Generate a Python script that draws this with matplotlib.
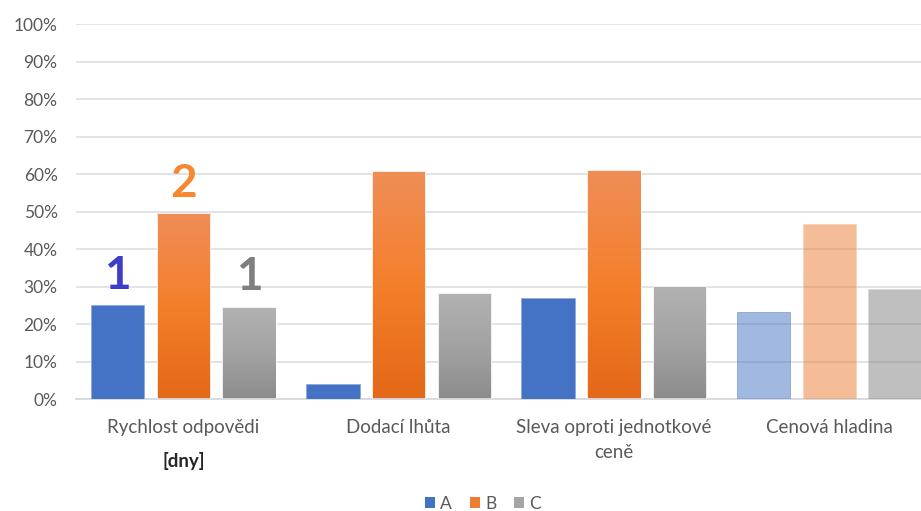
import numpy as np
import matplotlib
matplotlib.use("Agg")
import matplotlib.pyplot as plt
from matplotlib.patches import Patch
from matplotlib.colors import to_rgb

# --- data -------------------------------------------------------------
categories = ["Rychlost odpovědi", "Dodací lhůta",
              "Sleva oproti jednotkové\nceně", "Cenová hladina"]
series_names = ["A", "B", "C"]
series_a = [25.1, 4.0, 26.9, 23.2]
series_b = [49.6, 61.0, 61.1, 46.7]
series_c = [24.7, 28.3, 30.2, 29.4]
rank_labels = ["1", "2", "1"]          # ranks shown above the first group
unit_note = "[dny]"
y_ticks = list(range(0, 101, 10))

# --- style ------------------------------------------------------------
plt.rcParams["font.family"] = ["Lato", "DejaVu Sans"]
text_grey = "#595959"
blue = "#4472C4"
orange_stops = ["#EF8E58", "#F47F2B", "#E36817"]
grey_stops = ["#B2B2B2", "#A3A3A3", "#8C8C8C"]
faded = {"A": "#4472C4", "B": "#ED7D31", "C": "#808080"}

W, H = 921, 511
fig = plt.figure(figsize=(W / 100, H / 100), dpi=100)
# plot area spans past the right edge of the figure
left_px, right_px, bottom_px, top_px = 75.6, 936.9, 399.3, 24.3
ax = fig.add_axes([left_px / W, 1 - bottom_px / H,
                   (right_px - left_px) / W, (bottom_px - top_px) / H])

x = np.arange(len(categories))
bw = 0.248
pitch = 0.3055


def gradient_image(stops, n=200):
    cols = np.array([to_rgb(c) for c in stops])
    t = np.linspace(0, 1, n)
    pos = np.linspace(0, 1, len(stops))
    img = np.stack([np.interp(t, pos, cols[:, k]) for k in range(3)], axis=1)
    return img[:, None, :]


def gradient_bar(xc, h, stops):
    rect = ax.bar(xc, h, bw, color="none", edgecolor="#FFFFFF",
                  linewidth=0.6, zorder=3)[0]
    im = ax.imshow(gradient_image(stops), extent=(xc - bw / 2, xc + bw / 2, 0, h),
                   origin="upper", aspect="auto", zorder=2.5,
                   interpolation="bilinear")
    im.set_clip_path(rect)


for i in range(len(categories)):
    xa, xb, xc = x[i] - pitch, x[i], x[i] + pitch
    if i < len(categories) - 1:
        ax.bar(xa, series_a[i], bw, color=blue, edgecolor="#8FA9DC",
               linewidth=0.6, zorder=3)
        gradient_bar(xb, series_b[i], orange_stops)
        gradient_bar(xc, series_c[i], grey_stops)
    else:
        ax.bar(xa, series_a[i], bw, color=faded["A"], alpha=0.5,
               edgecolor=faded["A"], linewidth=0.6, zorder=3)
        ax.bar(xb, series_b[i], bw, color=faded["B"], alpha=0.5,
               edgecolor="#F6C7A6", linewidth=0.6, zorder=3)
        ax.bar(xc, series_c[i], bw, color=faded["C"], alpha=0.5,
               edgecolor="#D0D0D0", linewidth=0.6, zorder=3)

# rank numbers above the first group
rank_colors = ["#3D3DC9", "#F7882F", "#7F7F7F"]
first_vals = [series_a[0], series_b[0], series_c[0]]
for k, (lab, v, col) in enumerate(zip(rank_labels, first_vals, rank_colors)):
    ax.annotate(lab, (x[0] + (k - 1) * pitch, v), xytext=(0, 6),
                textcoords="offset points", ha="center", va="bottom",
                fontsize=33, fontweight="bold", color=col, zorder=5)

# axes, grid
ax.set_xlim(-0.5, len(categories) - 0.5)
ax.set_ylim(0, 100)
ax.set_yticks(y_ticks)
ax.set_yticklabels([f"{t}%" for t in y_ticks], fontsize=12.5, color=text_grey)
ax.yaxis.grid(True, color="#DDE0E6", linewidth=1.3, zorder=0)
ax.set_axisbelow(True)
for s in ["top", "right", "left"]:
    ax.spines[s].set_visible(False)
ax.spines["bottom"].set_color("#D6D9DE")
ax.spines["bottom"].set_linewidth(1.3)
ax.tick_params(axis="y", length=0, pad=13)
ax.tick_params(axis="x", length=0, pad=14)
ax.set_xticks(x)
ax.set_xticklabels(categories, fontsize=13.5, color=text_grey, linespacing=1.6)
ax.text(x[0], -16.5, unit_note, ha="center", va="center", fontsize=13.5,
        fontweight="bold", color="#262626")

# legend
handles = [Patch(facecolor=blue), Patch(facecolor="#ED7D31"),
           Patch(facecolor="#A5A5A5")]
fig.legend(handles, series_names, loc="center", ncol=3, frameon=False,
           bbox_to_anchor=(483 / W, 1 - 504 / H), fontsize=12.5,
           handlelength=0.6, handleheight=0.6, handletextpad=0.3,
           columnspacing=1.0, labelcolor=text_grey)

fig.savefig("out.png", dpi=100, facecolor="white")
